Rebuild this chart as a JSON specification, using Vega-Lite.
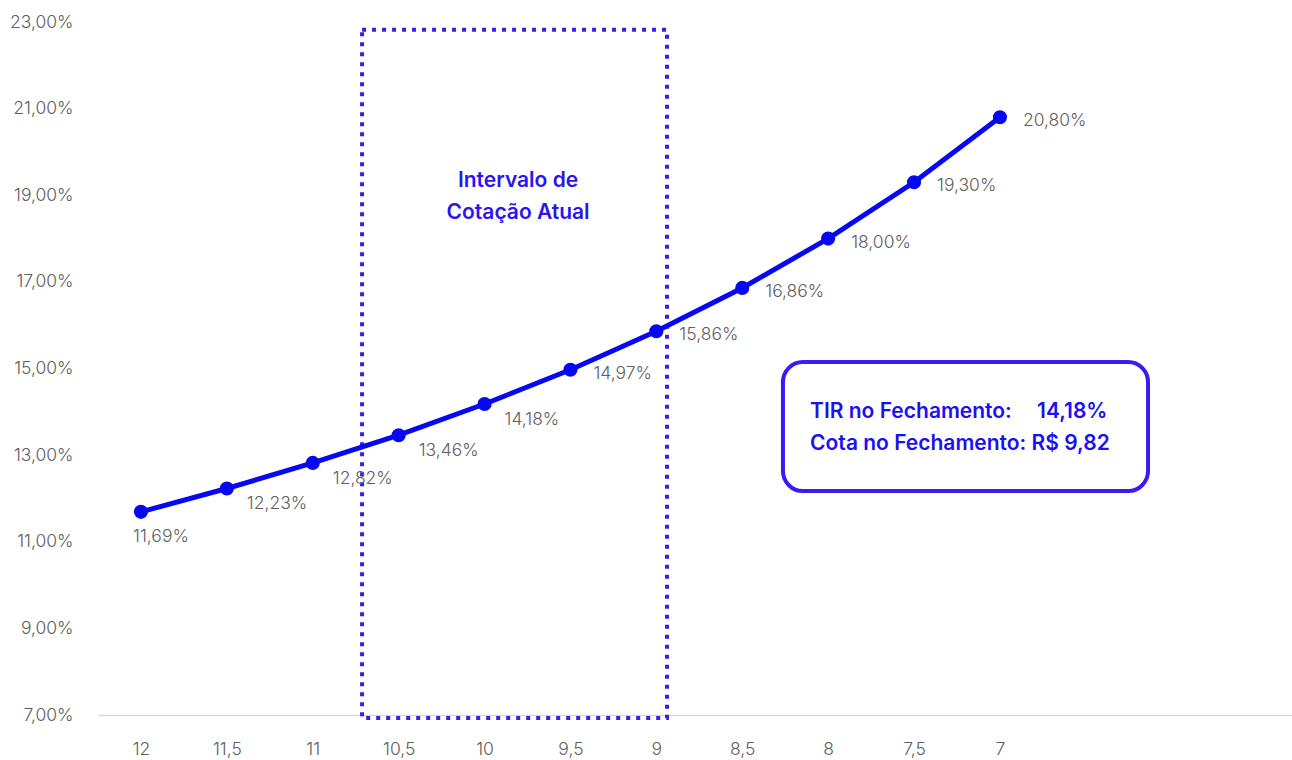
{
  "$schema": "https://vega.github.io/schema/vega-lite/v6.json",
  "width": 1194,
  "height": 693,
  "autosize": {"type": "none"},
  "padding": {"left": 98, "top": 22, "right": 0, "bottom": 45},
  "background": "white",
  "config": {
    "locale": {"number": {"decimal": ",", "thousands": ".", "grouping": [3], "currency": ["R$ ", ""]}},
    "view": {"stroke": null},
    "font": "Inter"
  },
  "datasets": {
    "curve": [
      {"cota": 12, "tir": 0.1169},
      {"cota": 11.5, "tir": 0.1223},
      {"cota": 11, "tir": 0.1282},
      {"cota": 10.5, "tir": 0.1346},
      {"cota": 10, "tir": 0.1418},
      {"cota": 9.5, "tir": 0.1497},
      {"cota": 9, "tir": 0.1586},
      {"cota": 8.5, "tir": 0.1686},
      {"cota": 8, "tir": 0.18},
      {"cota": 7.5, "tir": 0.193},
      {"cota": 7, "tir": 0.208}
    ],
    "interval": [{"x1": 10.713, "x2": 8.938, "y1": 0.0693, "y2": 0.2282}],
    "box": [{"x1": 8.263, "x2": 6.138, "y1": 0.1217, "y2": 0.1515}],
    "intervalText": [
      {"label": "Intervalo de", "x": 9.805, "y": 0.1933},
      {"label": "Cotação Atual", "x": 9.805, "y": 0.1859}
    ],
    "boxText": [
      {"label": "TIR no Fechamento:", "x": 8.105, "y": 0.14},
      {"label": "14,18%", "x": 6.784, "y": 0.14},
      {"label": "Cota no Fechamento: R$ 9,82", "x": 8.105, "y": 0.1326}
    ]
  },
  "layer": [
    {
      "data": {"name": "interval"},
      "mark": {"type": "rect", "fill": null, "stroke": "#3a1cf0", "strokeWidth": 4, "strokeDash": [4, 6], "strokeCap": "butt"},
      "encoding": {
        "x": {"field": "x1", "type": "quantitative", "scale": {"domain": [5.3, 12.25], "reverse": true, "nice": false, "zero": false},
          "axis": {"values": [12, 11.5, 11, 10.5, 10, 9.5, 9, 8.5, 8, 7.5, 7], "format": "~g", "title": null, "grid": false, "ticks": false, "domainColor": "#d9d9d9", "domainWidth": 1.5, "labelColor": "#606060", "labelFontSize": 17.5, "labelFont": "Inter", "labelFontWeight": 300, "labelPadding": 25, "labelFlush": false}},
        "x2": {"field": "x2"},
        "y": {"field": "y1", "type": "quantitative", "scale": {"domain": [0.07, 0.23], "nice": false, "zero": false},
          "axis": {"values": [0.07, 0.09, 0.11, 0.13, 0.15, 0.17, 0.19, 0.21, 0.23], "format": ".2%", "title": null, "grid": false, "ticks": false, "domain": false, "labelColor": "#606060", "labelFontSize": 17.5, "labelFont": "Inter", "labelFontWeight": 300, "labelPadding": 25}},
        "y2": {"field": "y2"}
      }
    },
    {
      "data": {"name": "box"},
      "mark": {"type": "rect", "fill": "white", "stroke": "#3a1cf0", "strokeWidth": 4, "cornerRadius": 20},
      "encoding": {
        "x": {"field": "x1", "type": "quantitative"},
        "x2": {"field": "x2"},
        "y": {"field": "y1", "type": "quantitative"},
        "y2": {"field": "y2"}
      }
    },
    {
      "data": {"name": "intervalText"},
      "mark": {"type": "text", "font": "Inter", "fontWeight": 600, "fontSize": 21, "color": "#2a14f2", "align": "center", "baseline": "middle"},
      "encoding": {
        "x": {"field": "x", "type": "quantitative"},
        "y": {"field": "y", "type": "quantitative"},
        "text": {"field": "label"}
      }
    },
    {
      "data": {"name": "boxText"},
      "mark": {"type": "text", "font": "Inter", "fontWeight": 600, "fontSize": 21, "color": "#1a10f5", "align": "left", "baseline": "middle"},
      "encoding": {
        "x": {"field": "x", "type": "quantitative"},
        "y": {"field": "y", "type": "quantitative"},
        "text": {"field": "label"}
      }
    },
    {
      "data": {"name": "curve"},
      "mark": {"type": "line", "color": "#0808f0", "strokeWidth": 5},
      "encoding": {
        "x": {"field": "cota", "type": "quantitative"},
        "y": {"field": "tir", "type": "quantitative"}
      }
    },
    {
      "data": {"name": "curve"},
      "mark": {"type": "point", "filled": true, "opacity": 1, "color": "#0808f0", "size": 200},
      "encoding": {
        "x": {"field": "cota", "type": "quantitative"},
        "y": {"field": "tir", "type": "quantitative"}
      }
    },
    {
      "data": {"name": "curve"},
      "transform": [{"filter": "datum.cota == 12"}],
      "mark": {"type": "text", "font": "Inter", "fontWeight": 300, "fontSize": 17.5, "color": "#606060", "align": "center", "baseline": "middle", "dx": 20, "dy": 25},
      "encoding": {
        "x": {"field": "cota", "type": "quantitative"},
        "y": {"field": "tir", "type": "quantitative"},
        "text": {"field": "tir", "type": "quantitative", "format": ".2%"}
      }
    },
    {
      "data": {"name": "curve"},
      "transform": [{"filter": "datum.cota < 12 && datum.cota >= 10"}],
      "mark": {"type": "text", "font": "Inter", "fontWeight": 300, "fontSize": 17.5, "color": "#606060", "align": "left", "baseline": "middle", "dx": 20, "dy": 16},
      "encoding": {
        "x": {"field": "cota", "type": "quantitative"},
        "y": {"field": "tir", "type": "quantitative"},
        "text": {"field": "tir", "type": "quantitative", "format": ".2%"}
      }
    },
    {
      "data": {"name": "curve"},
      "transform": [{"filter": "datum.cota < 10"}],
      "mark": {"type": "text", "font": "Inter", "fontWeight": 300, "fontSize": 17.5, "color": "#606060", "align": "left", "baseline": "middle", "dx": 23, "dy": 4},
      "encoding": {
        "x": {"field": "cota", "type": "quantitative"},
        "y": {"field": "tir", "type": "quantitative"},
        "text": {"field": "tir", "type": "quantitative", "format": ".2%"}
      }
    }
  ]
}
